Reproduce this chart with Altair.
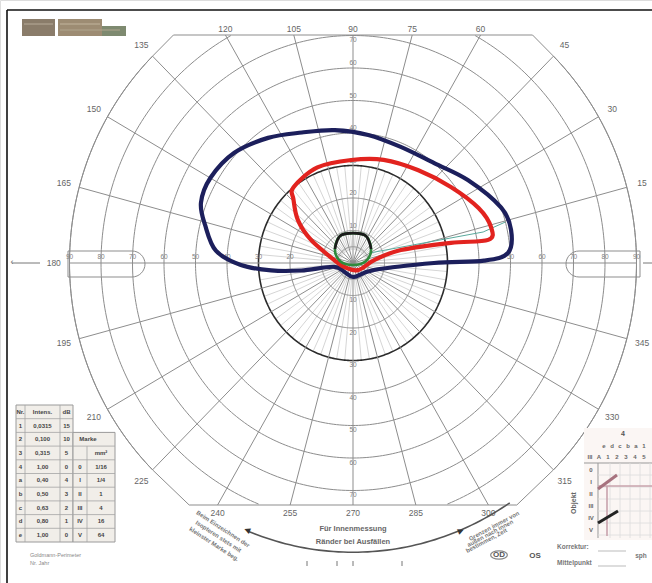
import math
import altair as alt
import numpy as np
import pandas as pd

# ------------------------------------------------------------------
# Values (Goldmann visual field, polar degrees)
# ------------------------------------------------------------------
circle_ecc = [5, 10, 20, 30, 40, 50, 60, 70, 80, 90]
meridian_deg = list(range(0, 360, 15))
fine_meridian_deg = [a for a in range(0, 360, 5) if a % 15 != 0]
angle_label_deg = list(range(15, 360, 15))
h_tick_left = [20, 30, 40, 50, 60, 70, 80, 90]
h_tick_right = [50, 60, 70, 80, 90]
v_tick_ecc = [10, 20, 30, 40, 50, 60, 70]

# isopters: meridian angle (deg) and eccentricity (deg)
blue_angle = [274, 342, 0, 1, 3.6, 11.5, 20, 35, 50, 67, 83, 98, 112, 125,
              138, 150, 159, 166, 175, 181, 185, 188, 191, 235]
blue_ecc = [4.3, 7.0, 25.7, 41.6, 49.3, 51.2, 50.0, 44.5, 40.1, 38.8, 39.7,
            41.3, 43.3, 47.0, 50.7, 52.3, 51.7, 48.4, 43.7, 35.6, 26.1, 16.6,
            6.1, 3.8]

red_angle = [129, 111, 91, 73, 54, 37, 23, 14, 9.4, 11.3, 14.7, 7.7, 306,
             202, 171, 152, 143, 134]
red_ecc = [30.0, 31.5, 31.7, 33.2, 35.3, 38.9, 43.3, 45.2, 43.5, 31.7, 15.7,
           6.8, 2.7, 3.1, 6.1, 15.1, 21.9, 27.2]

green_angle = [90, 63.6, 37, 8.5, 270, 171.5, 143, 116.4]
green_ecc = [9.2, 9.3, 7.2, 4.2, 0.6, 4.2, 7.2, 9.3]
black_angle = [143, 116.4, 90, 63.6, 37]
black_ecc = [7.2, 9.3, 9.2, 9.3, 7.2]

teal_angle = [30, 13, 14.6]
teal_ecc = [6.2, 42.4, 49.9]

table_left = [("Nr.", "Intens.", "dB"),
              ("1", "0,0315", "15"), ("2", "0,100", "10"),
              ("3", "0,315", "5"), ("4", "1,00", "0"),
              ("a", "0,40", "4"), ("b", "0,50", "3"),
              ("c", "0,63", "2"), ("d", "0,80", "1"), ("e", "1,00", "0")]
table_right = [("Marke", ""), ("", "mm²"), ("0", "1/16"), ("I", "1/4"),
               ("II", "1"), ("III", "4"), ("IV", "16"), ("V", "64")]

# ------------------------------------------------------------------
# Layout
# ------------------------------------------------------------------
W, H = 652, 583
CX, CY = 353, 263
KX, KY = 3.15, 3.25


def px_x(px):
    return (px - CX) / KX


def px_y(py):
    return (CY - py) / KY


TOP = px_y(35)
BOT = px_y(505)

XS = alt.Scale(domain=[px_x(0), px_x(W)], nice=False, zero=False)
YS = alt.Scale(domain=[px_y(H), px_y(0)], nice=False, zero=False)

GRID = "#8d8d8d"
LAB = "#666666"
FONT = "Liberation Sans"


def X(f="x"):
    return alt.X(f"{f}:Q", scale=XS, axis=None)


def Y(f="y"):
    return alt.Y(f"{f}:Q", scale=YS, axis=None)


def cosd(a):
    return math.cos(math.radians(a))


def sind(a):
    return math.sin(math.radians(a))


one = pd.DataFrame({"k": [0]})


def T(s, px, py, size=7, color=LAB, angle=0, weight="normal",
      align="center", baseline="middle"):
    return alt.Chart(one).mark_text(
        text=s, fontSize=size, color=color, angle=angle % 360,
        fontWeight=weight, align=align, baseline=baseline, font=FONT
    ).encode(x=alt.value(px), y=alt.value(py))


def R(x1, y1, x2, y2, color=GRID, w=1.0):
    return alt.Chart(one).mark_rule(color=color, strokeWidth=w).encode(
        x=alt.value(x1), y=alt.value(y1), x2=alt.value(x2), y2=alt.value(y2))


def B(x1, y1, x2, y2, fill="none", stroke=None, w=1.0, **kw):
    args = dict(fill=fill, strokeWidth=w)
    if stroke:
        args["stroke"] = stroke
    args.update(kw)
    return alt.Chart(one).mark_rect(**args).encode(
        x=alt.value(x1), y=alt.value(y1), x2=alt.value(x2), y2=alt.value(y2))


layers = []

# ---------------- concentric circles (clipped to the form outline) -----
circ = []
for e in circle_ecc:
    seg, prev, i = 0, False, 0
    for a in np.arange(90, 450.01, 1.0):
        x, y = e * cosd(a), e * sind(a)
        keep = BOT <= y <= TOP
        if e >= 90:
            keep = keep and abs(cosd(a)) >= cosd(45) - 1e-9
        if keep:
            if not prev:
                seg += 1
            circ.append(dict(ecc=e, seg=f"{e}-{seg}", i=i, x=x, y=y))
            i += 1
        prev = keep
circ = pd.DataFrame(circ)


def r_end(a):
    s = sind(a)
    r = 90.0
    if s > 1e-9:
        r = min(r, TOP / s)
    if s < -1e-9:
        r = min(r, BOT / s)
    return r


# fine meridians inside the central field (drawn first, lightest)
fmer = pd.DataFrame([dict(a=a, x1=4 * cosd(a), y1=4 * sind(a),
                          x2=30 * cosd(a), y2=30 * sind(a))
                     for a in fine_meridian_deg])
layers.append(alt.Chart(fmer).mark_rule(color="#c3c3c3", strokeWidth=0.7).encode(
    x=X("x1"), y=Y("y1"), x2="x2:Q", y2="y2:Q"))

layers.append(alt.Chart(circ[circ.ecc != 30]).mark_line(
    color=GRID, strokeWidth=1.0).encode(
    x=X(), y=Y(), detail="seg:N", order="i:Q"))
layers.append(alt.Chart(circ[circ.ecc == 30]).mark_line(
    color="#2b2b2b", strokeWidth=1.6).encode(
    x=X(), y=Y(), detail="seg:N", order="i:Q"))

# ---------------- meridians ----------------
mer = pd.DataFrame([dict(a=a, x1=0.0, y1=0.0,
                         x2=r_end(a) * cosd(a), y2=r_end(a) * sind(a))
                    for a in meridian_deg])
layers.append(alt.Chart(mer).mark_rule(color=GRID, strokeWidth=1.0).encode(
    x=X("x1"), y=Y("y1"), x2="x2:Q", y2="y2:Q"))

# ---------------- form outline ----------------
outline = [(-57, TOP), (-90 * cosd(45), 90 * sind(45))]
outline += [(90 * cosd(a), 90 * sind(a)) for a in np.arange(136, 225, 1.0)]
outline += [(-90 * cosd(45), -90 * sind(45)), (-52, BOT), (52, BOT),
            (90 * cosd(45), -90 * sind(45))]
outline += [(90 * cosd(a), 90 * sind(a)) for a in np.arange(316, 405, 1.0)]
outline += [(90 * cosd(45), 90 * sind(45)), (57, TOP), (-57, TOP)]
odf = pd.DataFrame([dict(i=i, x=p[0], y=p[1]) for i, p in enumerate(outline)])
layers.append(alt.Chart(odf).mark_line(color=GRID, strokeWidth=1.0).encode(
    x=X(), y=Y(), order="i:Q"))

# meridian boxes on the horizontal line
layers.append(B(68, 251, 145, 277, stroke=GRID, w=1.0,
                cornerRadiusTopRight=13, cornerRadiusBottomRight=13))
layers.append(B(566, 251, 640, 277, stroke=GRID, w=1.0,
                cornerRadiusTopLeft=13, cornerRadiusBottomLeft=13))

# ---------------- angle labels ----------------
lab = []
for a in angle_label_deg:
    if 50 < a < 130:
        lab.append(dict(t=str(a), x=r_end(a) * cosd(a), y=TOP + 2.0))
    elif 230 < a < 310:
        lab.append(dict(t=str(a), x=r_end(a) * cosd(a), y=BOT - 2.4))
    else:
        lab.append(dict(t=str(a), x=95 * cosd(a), y=95 * sind(a)))
lab = pd.DataFrame(lab)
layers.append(alt.Chart(lab).mark_text(fontSize=8.5, color=LAB, font=FONT).encode(
    x=X(), y=Y(), text="t:N"))

# eccentricity tick labels along the meridians
ht = pd.DataFrame([dict(t=str(e), x=-e, y=1.9) for e in h_tick_left] +
                  [dict(t=str(e), x=e, y=1.9) for e in h_tick_right])
layers.append(alt.Chart(ht).mark_text(fontSize=6.5, color="#808080", font=FONT).encode(
    x=X(), y=Y(), text="t:N"))
vt = pd.DataFrame([dict(t=str(e), x=0.0, y=(e + 1.4) if e < 70 else (e - 1.3))
                   for e in v_tick_ecc] +
                  [dict(t=str(e), x=0.0, y=-e - 1.4) for e in v_tick_ecc])
layers.append(alt.Chart(vt).mark_text(fontSize=6.5, color="#808080", font=FONT).encode(
    x=X(), y=Y(), text="t:N"))

# ---------------- isopters ----------------


def iso(angles, eccs, color, width, interp, opacity=1.0):
    df = pd.DataFrame({"angle": angles, "ecc": eccs,
                       "i": list(range(len(angles)))})
    return alt.Chart(df).transform_calculate(
        x="datum.ecc * cos(datum.angle * PI / 180)",
        y="datum.ecc * sin(datum.angle * PI / 180)"
    ).mark_line(color=color, strokeWidth=width, interpolate=interp,
                opacity=opacity).encode(x=X(), y=Y(), order="i:Q")


layers.append(iso(teal_angle, teal_ecc, "#5aa99c", 1.0, "linear"))
layers.append(iso(blue_angle, blue_ecc, "#1c1f5c", 4.2, "cardinal-closed"))
layers.append(iso(red_angle, red_ecc, "#e2231f", 4.2, "cardinal-closed"))
layers.append(iso(green_angle, green_ecc, "#2f8a3c", 2.6, "cardinal-closed"))
layers.append(iso(black_angle, black_ecc, "#1b1b1b", 2.6, "cardinal"))

# ---------------- sheet frame & decorations ----------------
layers.append(R(7, 10, 652, 10, "#111", 1.6))
layers.append(R(7, 10, 7, 583, "#111", 1.6))

# redacted header blocks
layers.append(B(22, 19, 55, 36, fill="#8a7c6a"))
layers.append(B(58, 19, 102, 36, fill="#9d8c73"))
layers.append(B(102, 26, 126, 36, fill="#7e8a70"))
layers.append(R(24, 24, 53, 24, "#b7ab99", 1))
layers.append(R(60, 24, 100, 24, "#c2b59e", 1))
layers.append(R(60, 30, 120, 30, "#b0a58e", 1))

# side arrows
layers.append(R(12, 263, 40, 263, "#777", 1))
layers.append(T("‹", 12, 262, size=9, color="#666"))
layers.append(R(643, 263, 652, 263, "#777", 1))

# lower arc with arrows (90° circle)
arc = pd.DataFrame([dict(i=i, x=89 * cosd(a), y=89 * sind(a))
                    for i, a in enumerate(np.arange(248, 305, 1.0))])
layers.append(alt.Chart(arc).mark_line(color="#555", strokeWidth=1.6).encode(
    x=X(), y=Y(), order="i:Q"))
layers.append(T("▲", 247, 530, size=10, color="#333", angle=292))
layers.append(T("▲", 461, 531, size=10, color="#333", angle=67))
layers.append(T("Für Innenmessung", 353, 529, size=7.5, color="#666", weight="bold"))
layers.append(T("Ränder bei Ausfällen", 353, 542, size=7.5, color="#666", weight="bold"))
for xx in [307, 337, 353, 402]:
    layers.append(R(xx, 561, xx, 566, "#777", 1))

for k, s in enumerate(["Beim Einzeichnen der", "Isopteren stets mit",
                       "kleinster Marke beg."]):
    layers.append(T(s, 223 - 4.5 * k, 529 + 7.5 * k, size=6, color="#777",
                    weight="bold", angle=33))
for k, s in enumerate(["Grenzen immer von", "außen nach innen",
                       "bestimmen, Zeit"]):
    layers.append(T(s, 494 - 3.8 * k, 526 + 7.3 * k, size=6, color="#777",
                    weight="bold", angle=-28))

# ---------------- table (lower left) ----------------
TY0, RH = 405, 13.7
layers.append(B(16, TY0, 73, TY0 + 10 * RH, fill="#f1eee9", stroke="#9a9a9a", w=1))
layers.append(B(73, TY0 + 2 * RH, 115, TY0 + 10 * RH, fill="#f1eee9",
                stroke="#9a9a9a", w=1))
for i in range(1, 10):
    layers.append(R(16, TY0 + i * RH, 73, TY0 + i * RH, "#a5a5a5", 0.8))
for i in range(3, 10):
    layers.append(R(73, TY0 + i * RH, 115, TY0 + i * RH, "#a5a5a5", 0.8))
for xx in [25, 60]:
    layers.append(R(xx, TY0, xx, TY0 + 10 * RH, "#a5a5a5", 0.8))
layers.append(R(87, TY0 + 3 * RH, 87, TY0 + 10 * RH, "#a5a5a5", 0.8))
for r, (a, b, c) in enumerate(table_left):
    yy = TY0 + (r + 0.5) * RH
    layers.append(T(a, 20.5, yy, size=6, color="#444", weight="bold"))
    layers.append(T(b, 42.5, yy, size=6, color="#444", weight="bold"))
    layers.append(T(c, 66.5, yy, size=6, color="#444", weight="bold"))
for r, (a, b) in enumerate(table_right):
    yy = TY0 + (r + 2.5) * RH
    if a == "Marke":
        layers.append(T(a, 88, yy, size=6, color="#444", weight="bold"))
        continue
    if a:
        layers.append(T(a, 80, yy, size=6, color="#444", weight="bold"))
    if b:
        layers.append(T(b, 101, yy, size=6, color="#444", weight="bold"))
layers.append(T("Goldmann-Perimeter", 30, 555, size=5.5, color="#888",
                align="left"))
layers.append(T("Nr.      Jahr", 30, 563, size=5.5, color="#888", align="left"))

# ---------------- lower right block ----------------
layers.append(B(584, 428, 652, 540, fill="#fbf6f4"))
layers.append(T("4", 623, 434, size=7, color="#555", weight="bold"))
for k, s in enumerate(["e", "d", "c", "b", "a", "1"]):
    layers.append(T(s, 604 + 8 * k, 446, size=6, color="#666", weight="bold"))
for k, s in enumerate(["III", "A", "1", "2", "3", "4", "5"]):
    layers.append(T(s, 590 + 9 * k, 457, size=6, color="#666", weight="bold"))
layers.append(R(584, 463, 652, 463, "#999", 1))
layers.append(R(598, 463, 598, 538, "#999", 1))
for k in range(6):
    layers.append(R(598, 475 + 12 * k, 652, 475 + 12 * k, "#ddd", 0.8))
for k in range(5):
    layers.append(R(610 + 10 * k, 463, 610 + 10 * k, 538, "#ddd", 0.8))
for k, s in enumerate(["0", "I", "II", "III", "IV", "V"]):
    layers.append(T(s, 591, 470 + 12 * k, size=6, color="#666", weight="bold"))
layers.append(R(598, 486, 652, 486, "#c9a3ad", 1.6))
layers.append(R(607, 486, 607, 536, "#c9a3ad", 1.6))
layers.append(R(598, 489, 617, 475, "#a7737f", 3))
layers.append(R(598, 523, 618, 511, "#222", 3))
layers.append(T("Objekt", 574, 503, size=7, color="#666", weight="bold", angle=270))

layers.append(alt.Chart(one).mark_point(
    shape="M-1,0A1,0.5 0 1,0 1,0A1,0.5 0 1,0 -1,0", size=280,
    color="#555", strokeWidth=1.2, filled=False).encode(
    x=alt.value(499), y=alt.value(555)))
layers.append(T("OD", 499, 555, size=8, color="#555", weight="bold"))
layers.append(T("OS", 535, 556, size=8, color="#555", weight="bold"))
layers.append(T("Korrektur:", 557, 547, size=6.5, color="#777", weight="bold",
                align="left"))
layers.append(R(598, 551, 626, 551, "#bbb", 1))
layers.append(T("Mittelpunkt", 557, 563, size=6.5, color="#777", weight="bold",
                align="left"))
layers.append(R(598, 566, 626, 566, "#bbb", 1))
layers.append(T("sph", 641, 556, size=6.5, color="#777", weight="bold"))

chart = alt.layer(*layers).properties(
    width=W, height=H, padding=0, autosize="none"
).configure_view(strokeWidth=0).configure(background="white")

chart.save("out.html", embed_options={"renderer": "svg", "actions": False})
